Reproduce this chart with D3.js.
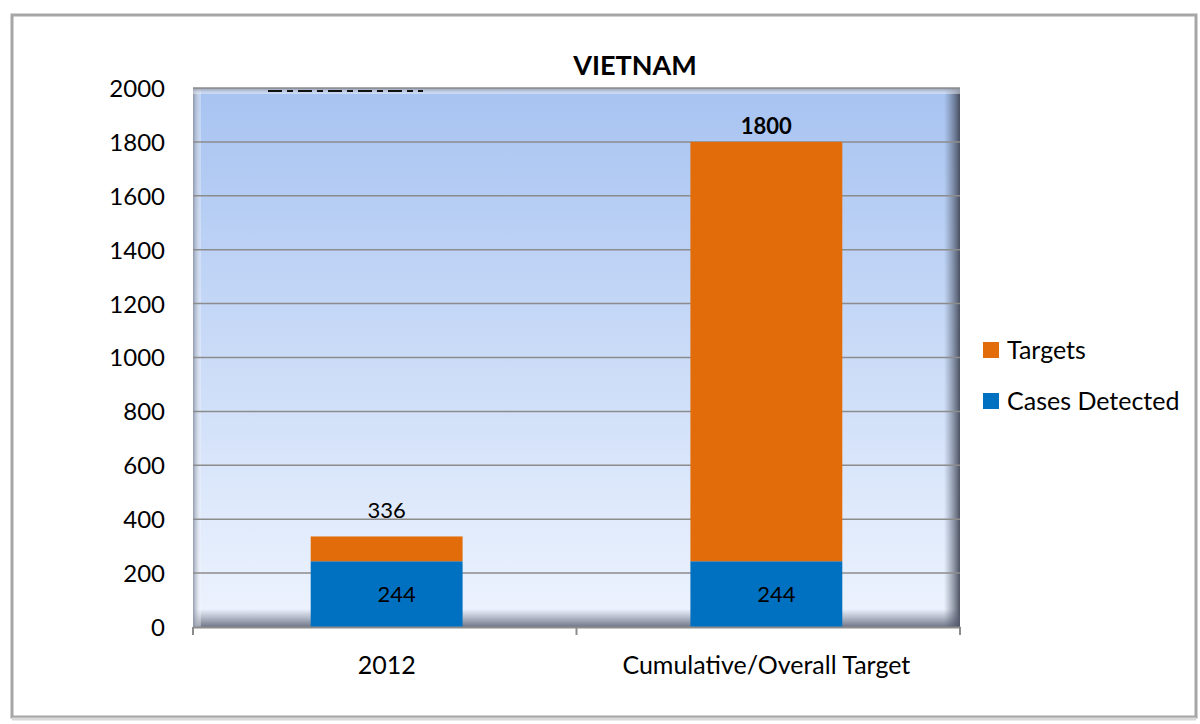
<!DOCTYPE html>
<html>
<head>
<meta charset="utf-8">
<title>VIETNAM</title>
<script src="https://d3js.org/d3.v7.min.js"></script>
<style>
  body { margin: 0; background: #fff; }
  text { font-family: Lato, "Open Sans", sans-serif; fill: #000; }
</style>
</head>
<body>
<svg width="1200" height="724"></svg>
<script>
var categories = ['2012', 'Cumulative/Overall Target'];
var casesDetected = [244, 244];
var targets = [336, 1800];
var seriesNames = ['Cases Detected', 'Targets'];
var colors = ['#0070c0', '#e36c0a'];
var yTicks = [0, 200, 400, 600, 800, 1000, 1200, 1400, 1600, 1800, 2000];

var svg = d3.select('svg');
var defs = svg.append('defs');

// outer frame
svg.append('rect').attr('x', 12).attr('y', 15).attr('width', 1184).attr('height', 702)
  .attr('fill', '#fff').attr('stroke', '#a6a6a6').attr('stroke-width', 3);
svg.append('line').attr('x1', 12).attr('x2', 1196).attr('y1', 719).attr('y2', 719)
  .attr('stroke', '#d9d9d9').attr('stroke-width', 3);

var pLeft = 193, pRight = 960, pTop = 88, pBottom = 627;

var x = d3.scaleBand().domain(categories).range([pLeft, pRight]).paddingInner(0.6).paddingOuter(0.31);
var y = d3.scaleLinear().domain([0, 2000]).range([pBottom, pTop]);

// plot background gradient
var bg = defs.append('linearGradient').attr('id', 'bg').attr('x1', 0).attr('y1', 0).attr('x2', 0).attr('y2', 1);
bg.append('stop').attr('offset', '0%').attr('stop-color', '#a7c3f1');
bg.append('stop').attr('offset', '100%').attr('stop-color', '#eef4fe');

var rShade = defs.append('linearGradient').attr('id', 'rshade').attr('x1', 0).attr('y1', 0).attr('x2', 1).attr('y2', 0);
rShade.append('stop').attr('offset', '0%').attr('stop-color', '#5a6478').attr('stop-opacity', 0);
rShade.append('stop').attr('offset', '100%').attr('stop-color', '#3c4150').attr('stop-opacity', 0.9);

var bShade = defs.append('linearGradient').attr('id', 'bshade').attr('x1', 0).attr('y1', 0).attr('x2', 0).attr('y2', 1);
bShade.append('stop').attr('offset', '0%').attr('stop-color', '#5a6478').attr('stop-opacity', 0);
bShade.append('stop').attr('offset', '100%').attr('stop-color', '#50566a').attr('stop-opacity', 0.8);

var lShade = defs.append('linearGradient').attr('id', 'lshade').attr('x1', 0).attr('y1', 0).attr('x2', 1).attr('y2', 0);
lShade.append('stop').attr('offset', '0%').attr('stop-color', '#8a93a8').attr('stop-opacity', 0.9);
lShade.append('stop').attr('offset', '100%').attr('stop-color', '#ffffff').attr('stop-opacity', 0.3);

var tShade = defs.append('linearGradient').attr('id', 'tshade').attr('x1', 0).attr('y1', 0).attr('x2', 0).attr('y2', 1);
tShade.append('stop').attr('offset', '0%').attr('stop-color', '#8a93a8').attr('stop-opacity', 0.9);
tShade.append('stop').attr('offset', '100%').attr('stop-color', '#ffffff').attr('stop-opacity', 0.4);

svg.append('rect').attr('x', pLeft).attr('y', pTop).attr('width', pRight - pLeft).attr('height', pBottom - pTop)
  .attr('fill', 'url(#bg)');
svg.append('rect').attr('x', pRight - 16).attr('y', pTop).attr('width', 16).attr('height', pBottom - pTop)
  .attr('fill', 'url(#rshade)');
svg.append('rect').attr('x', pLeft).attr('y', pBottom - 18).attr('width', pRight - pLeft).attr('height', 18)
  .attr('fill', 'url(#bshade)');
svg.append('rect').attr('x', pLeft).attr('y', pTop).attr('width', 8).attr('height', pBottom - pTop)
  .attr('fill', 'url(#lshade)');
svg.append('rect').attr('x', pLeft).attr('y', pTop).attr('width', pRight - pLeft).attr('height', 6)
  .attr('fill', 'url(#tshade)');

// clipped remnant text at top of plot area
svg.append('line').attr('x1', 268).attr('x2', 423).attr('y1', 91).attr('y2', 91)
  .attr('stroke', '#111').attr('stroke-width', 2).attr('stroke-dasharray', '14,5,6,5');

// gridlines
svg.append('g').selectAll('line').data(yTicks.slice(1)).enter().append('line')
  .attr('x1', pLeft).attr('x2', pRight)
  .attr('y1', function(d) { return y(d); }).attr('y2', function(d) { return y(d); })
  .attr('stroke', '#8c8c8c').attr('stroke-width', 1.5);

// stacked bars
var rows = categories.map(function(c, i) {
  return { cat: c, cases: casesDetected[i], targets: targets[i] - casesDetected[i], total: targets[i] };
});
var stack = d3.stack().keys(['cases', 'targets']);
var layers = stack(rows);

svg.append('g').selectAll('g').data(layers).enter().append('g')
  .attr('fill', function(d, i) { return colors[i]; })
  .selectAll('rect').data(function(d) { return d; }).enter().append('rect')
  .attr('x', function(d) { return x(d.data.cat); })
  .attr('width', x.bandwidth())
  .attr('y', function(d) { return y(d[1]); })
  .attr('height', function(d) { return y(d[0]) - y(d[1]); });

// axes
var yAxis = d3.axisLeft(y).tickValues(yTicks).tickFormat(d3.format('d')).tickSize(0).tickPadding(28);
var gy = svg.append('g').attr('transform', 'translate(' + pLeft + ',0)').call(yAxis);
gy.select('.domain').remove();
gy.selectAll('text').attr('font-size', 24).attr('font-family', 'Lato').attr('dy', '0.35em');

var xAxis = d3.axisBottom(x).tickSize(0).tickPadding(29);
var gx = svg.append('g').attr('transform', 'translate(0,' + pBottom + ')').call(xAxis);
gx.select('.domain').attr('stroke', '#8c8c8c').attr('stroke-width', 2);
gx.selectAll('text').attr('font-size', 25).attr('font-family', 'Lato');
// category separators
var seps = [pLeft, (pLeft + pRight) / 2, pRight];
svg.append('g').selectAll('line').data(seps).enter().append('line')
  .attr('x1', function(d) { return d; }).attr('x2', function(d) { return d; })
  .attr('y1', pBottom).attr('y2', pBottom + 8)
  .attr('stroke', '#8c8c8c').attr('stroke-width', 2);

// data labels
svg.append('g').selectAll('text').data(rows).enter().append('text')
  .attr('x', function(d) { return x(d.cat) + x.bandwidth() / 2 + 10; })
  .attr('y', function(d) { return y(d.cases / 2); })
  .attr('dy', '0.35em').attr('text-anchor', 'middle').attr('font-size', 22)
  .text(function(d) { return d.cases; });

var totalGap = [18, 8];
svg.append('g').selectAll('text').data(rows).enter().append('text')
  .attr('x', function(d) { return x(d.cat) + x.bandwidth() / 2; })
  .attr('y', function(d, i) { return y(d.total) - totalGap[i]; })
  .attr('text-anchor', 'middle')
  .attr('font-size', 22)
  .attr('font-weight', function(d, i) { return i === 1 ? 'bold' : 'normal'; })
  .text(function(d) { return d.total; });

// title
svg.append('text').attr('x', 635).attr('y', 75).attr('text-anchor', 'middle')
  .attr('font-size', 27).attr('font-weight', 'bold').text('VIETNAM');

// legend (Targets above Cases Detected)
var legendItems = [{ name: seriesNames[1], color: colors[1] }, { name: seriesNames[0], color: colors[0] }];
var lg = svg.append('g').selectAll('g').data(legendItems).enter().append('g')
  .attr('transform', function(d, i) { return 'translate(983,' + (342 + i * 51) + ')'; });
lg.append('rect').attr('width', 16).attr('height', 16).attr('fill', function(d) { return d.color; });
lg.append('text').attr('x', 24).attr('y', 8).attr('dy', '0.35em').attr('font-size', 25)
  .text(function(d) { return d.name; });
</script>
</body>
</html>
